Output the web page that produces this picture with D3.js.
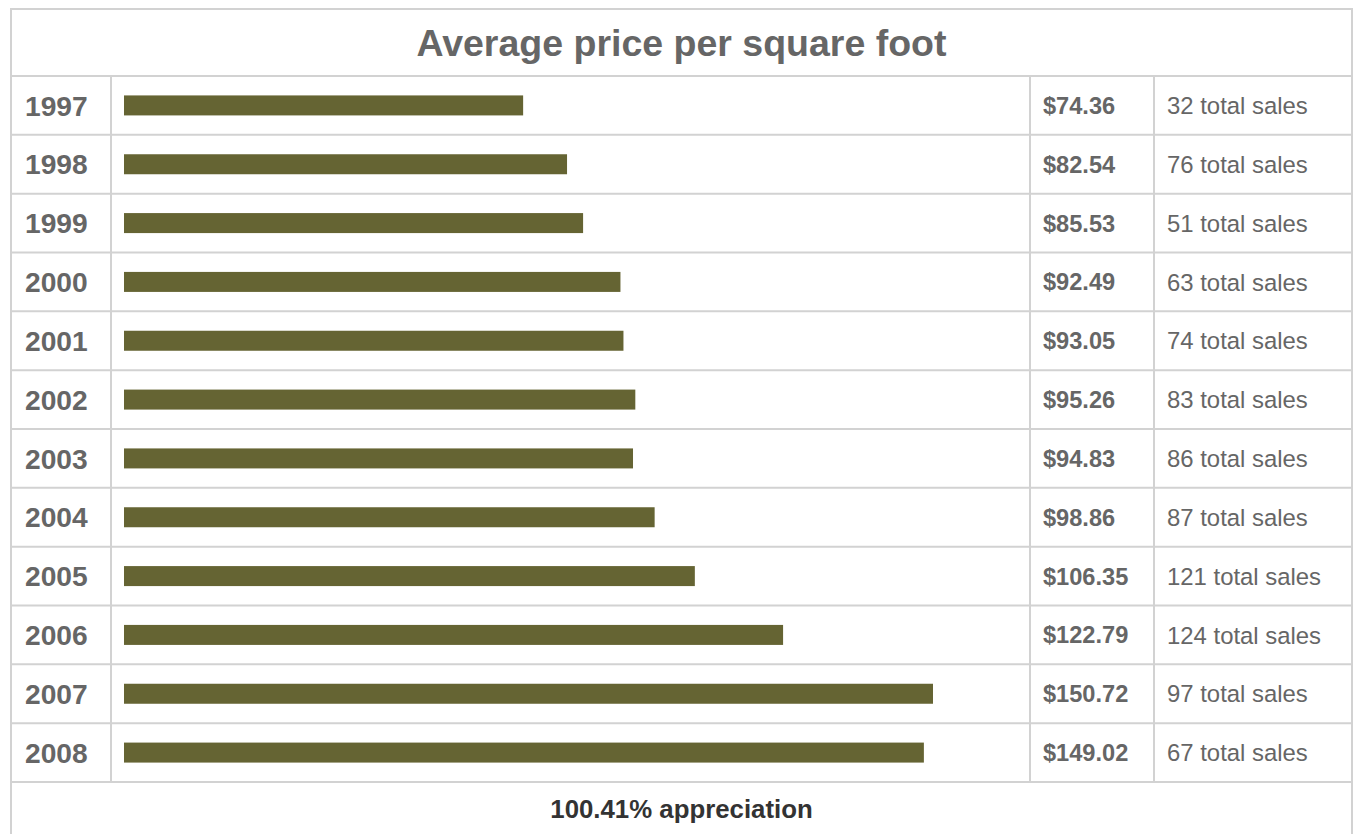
<!DOCTYPE html>
<html>
<head>
<meta charset="utf-8">
<script src="https://cdn.jsdelivr.net/npm/d3@7"></script>
<style>
  body { margin: 0; background: #fff; }
  svg { display: block; font-family: "Liberation Sans", Arial, sans-serif; }
</style>
</head>
<body>
<div id="chart"></div>
<script>
// 1. DATA
const years = ["1997", "1998", "1999", "2000", "2001", "2002", "2003", "2004", "2005", "2006", "2007", "2008"]
const prices = [74.36, 82.54, 85.53, 92.49, 93.05, 95.26, 94.83, 98.86, 106.35, 122.79, 150.72, 149.02]
const sales = [32, 76, 51, 63, 74, 83, 86, 87, 121, 124, 97, 67]
const title = "Average price per square foot"
const footer = "100.41% appreciation"

const dataset = years.map((y, i) => ({ year: y, price: prices[i], sales: sales[i] }))

// 2. DIMENSIONS
const dimensions = {
    width: 1353,
    height: 834,
    left: 11,
    right: 1352,
    titleTop: 9,
    rowsTop: 76,
    rowsBottom: 782,
    colBar: 111,
    colPrice: 1030,
    colSales: 1154
}
const borderColor = "#d2d2d2"

// 3. CANVAS
const svg = d3.select("#chart")
    .append("svg")
    .attr("width", dimensions.width)
    .attr("height", dimensions.height)

// 4. SCALES
const yScale = d3.scaleBand()
    .domain(years)
    .range([dimensions.rowsTop, dimensions.rowsBottom])

const xScale = d3.scaleLinear()
    .domain([0, d3.max(prices)])
    .range([124, 933])

// 5. GRID
const grid = svg.append("g")
    .attr("stroke", borderColor)
    .attr("stroke-width", 2)
    .attr("fill", "none")

// outer frame
grid.append("path")
    .attr("d", `M${dimensions.left},${dimensions.height + 5} V${dimensions.titleTop} H${dimensions.right} V${dimensions.height + 5}`)

// horizontal row lines
const hLines = [dimensions.rowsTop, ...years.map(y => yScale(y) + yScale.bandwidth())]
grid.selectAll("line.h")
    .data(hLines)
    .join("line")
    .attr("class", "h")
    .attr("x1", dimensions.left)
    .attr("x2", dimensions.right)
    .attr("y1", d => d)
    .attr("y2", d => d)

// vertical column lines
grid.selectAll("line.v")
    .data([dimensions.colBar, dimensions.colPrice, dimensions.colSales])
    .join("line")
    .attr("class", "v")
    .attr("x1", d => d)
    .attr("x2", d => d)
    .attr("y1", dimensions.rowsTop)
    .attr("y2", dimensions.rowsBottom)

// 6. DATA
const rows = svg.append("g")
    .selectAll("g")
    .data(dataset)
    .join("g")
    .attr("transform", d => `translate(0,${yScale(d.year) + yScale.bandwidth() / 2})`)

rows.append("rect")
    .attr("x", xScale(0))
    .attr("y", -10)
    .attr("width", d => xScale(d.price) - xScale(0))
    .attr("height", 20)
    .attr("fill", "#656433")

rows.append("text")
    .attr("x", 25)
    .attr("dy", "0.36em")
    .attr("fill", "#666")
    .attr("font-weight", "bold")
    .attr("font-size", 28.2)
    .text(d => d.year)

rows.append("text")
    .attr("x", 1043)
    .attr("dy", "0.36em")
    .attr("fill", "#666")
    .attr("font-weight", "bold")
    .attr("font-size", 23.6)
    .text(d => "$" + d3.format(".2f")(d.price))

rows.append("text")
    .attr("x", 1167)
    .attr("dy", "0.36em")
    .attr("fill", "#666")
    .attr("font-size", 23.9)
    .text(d => d.sales + " total sales")

// 7. TITLE AND FOOTER
svg.append("text")
    .attr("x", (dimensions.left + dimensions.right) / 2)
    .attr("y", 56)
    .attr("text-anchor", "middle")
    .attr("fill", "#666")
    .attr("font-weight", "bold")
    .attr("font-size", 37.5)
    .text(title)

svg.append("text")
    .attr("x", (dimensions.left + dimensions.right) / 2)
    .attr("y", 818)
    .attr("text-anchor", "middle")
    .attr("fill", "#333")
    .attr("font-weight", "bold")
    .attr("font-size", 25.8)
    .text(footer)
</script>
</body>
</html>
